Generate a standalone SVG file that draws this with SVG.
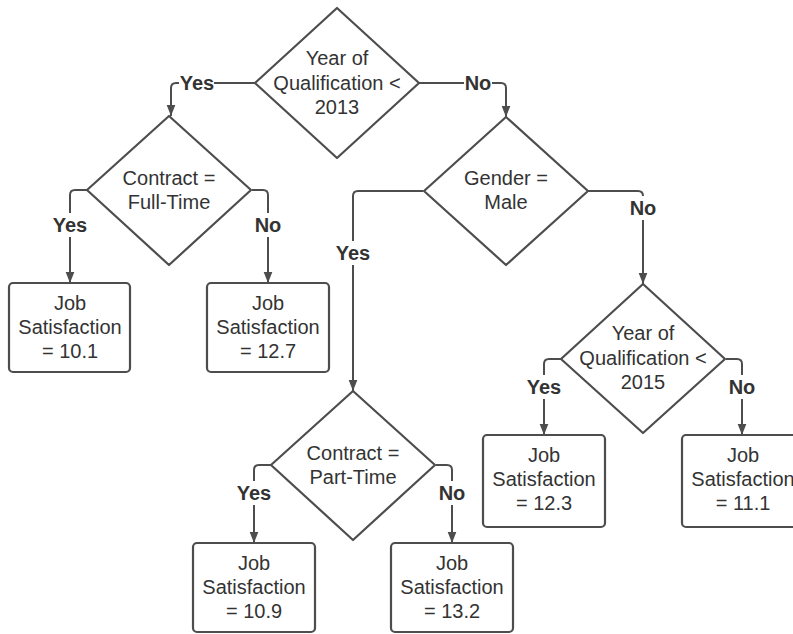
<svg xmlns="http://www.w3.org/2000/svg" width="793" height="634" viewBox="0 0 793 634">
<style>
.shape{fill:#fff;stroke:#4d4d4d;stroke-width:2.2;stroke-linejoin:round}
.conn{fill:none;stroke:#4d4d4d;stroke-width:2}
.t{font-family:"Liberation Sans",Arial,sans-serif;font-size:20px;fill:#333;text-anchor:middle}
.lbl{font-family:"Liberation Sans",Arial,sans-serif;font-size:20px;font-weight:bold;fill:#333;text-anchor:middle}
.bg{fill:#fff}
</style>
<defs>
<marker id="arr" markerUnits="userSpaceOnUse" markerWidth="12" markerHeight="14" viewBox="0 0 12 14" refX="6" refY="14" orient="auto-start-reverse">
<path d="M0,0 L12,0 L6,14 Z" fill="#4d4d4d" transform="rotate(0)"/>
</marker>
<marker id="ad" markerUnits="userSpaceOnUse" markerWidth="11" markerHeight="14" viewBox="0 0 14 11" refX="14" refY="5.5" orient="auto">
<path d="M0,0 L14,5.5 L0,11 Z" fill="#4d4d4d"/>
</marker>
</defs>
<rect width="793" height="634" fill="#fff"/>

<g id="connectors">
<path class="conn" marker-end="url(#ad)" d="M255,83 H176 Q171,83 171,88 V116"/>
<path class="conn" marker-end="url(#ad)" d="M419,83 H501 Q506,83 506,88 V117"/>
<path class="conn" marker-end="url(#ad)" d="M87,190 H75 Q70,190 70,195 V283"/>
<path class="conn" marker-end="url(#ad)" d="M252,190 H263 Q268,190 268,195 V283"/>
<path class="conn" marker-end="url(#ad)" d="M423,191 H358 Q353,191 353,196 V391"/>
<path class="conn" marker-end="url(#ad)" d="M588,191 H638 Q643,191 643,196 V284"/>
<path class="conn" marker-end="url(#ad)" d="M561,359 H549 Q544,359 544,364 V435"/>
<path class="conn" marker-end="url(#ad)" d="M726,359 H737 Q742,359 742,364 V435"/>
<path class="conn" marker-end="url(#ad)" d="M271,465 H259 Q254,465 254,470 V543"/>
<path class="conn" marker-end="url(#ad)" d="M436,465 H447 Q452,465 452,470 V543"/>
<g id="labels">
<rect class="bg" x="179" y="72" width="35" height="22"/><text class="lbl" x="197" y="90">Yes</text>
<rect class="bg" x="464" y="72" width="28" height="22"/><text class="lbl" x="478" y="90">No</text>
<rect class="bg" x="52" y="213" width="36" height="24"/><text class="lbl" x="70" y="232">Yes</text>
<rect class="bg" x="254" y="213" width="28" height="24"/><text class="lbl" x="268" y="232">No</text>
<rect class="bg" x="335" y="241" width="36" height="24"/><text class="lbl" x="353" y="260">Yes</text>
<rect class="bg" x="629" y="196" width="28" height="24"/><text class="lbl" x="643" y="215">No</text>
<rect class="bg" x="526" y="375" width="36" height="24"/><text class="lbl" x="544" y="394">Yes</text>
<rect class="bg" x="728" y="375" width="28" height="24"/><text class="lbl" x="742" y="394">No</text>
<rect class="bg" x="236" y="481" width="36" height="24"/><text class="lbl" x="254" y="500">Yes</text>
<rect class="bg" x="438" y="481" width="28" height="24"/><text class="lbl" x="452" y="500">No</text>
</g>
</g>

<g id="q-year2013">
<path class="shape" d="M337,8 L419,83 L337,158 L255,83 Z"/>
<text class="t" x="337" y="65">Year of</text>
<text class="t" x="337" y="90">Qualification &lt;</text>
<text class="t" x="337" y="114">2013</text>
</g>
<g id="q-fulltime">
<path class="shape" d="M169,116 L251,190 L169,265 L87,190 Z"/>
<text class="t" x="169" y="185">Contract =</text>
<text class="t" x="169" y="209">Full-Time</text>
</g>
<g id="q-gender">
<path class="shape" d="M506,117 L588,191 L506,265 L424,191 Z"/>
<text class="t" x="506" y="185">Gender =</text>
<text class="t" x="506" y="209">Male</text>
</g>
<g id="q-parttime">
<path class="shape" d="M353,391 L435,465 L353,540 L271,465 Z"/>
<text class="t" x="353" y="460">Contract =</text>
<text class="t" x="353" y="484">Part-Time</text>
</g>
<g id="q-year2015">
<path class="shape" d="M643,284 L725,359 L643,433 L561,359 Z"/>
<text class="t" x="643" y="340">Year of</text>
<text class="t" x="643" y="365">Qualification &lt;</text>
<text class="t" x="643" y="389">2015</text>
</g>

<g id="r-101">
<rect class="shape" x="9" y="283" width="121" height="89" rx="4"/>
<text class="t" x="70" y="310">Job</text>
<text class="t" x="70" y="334">Satisfaction</text>
<text class="t" x="70" y="358">= 10.1</text>
</g>
<g id="r-127">
<rect class="shape" x="207" y="283" width="122" height="89" rx="4"/>
<text class="t" x="268" y="310">Job</text>
<text class="t" x="268" y="334">Satisfaction</text>
<text class="t" x="268" y="358">= 12.7</text>
</g>
<g id="r-123">
<rect class="shape" x="483" y="435" width="122" height="92" rx="4"/>
<text class="t" x="544" y="462">Job</text>
<text class="t" x="544" y="486">Satisfaction</text>
<text class="t" x="544" y="510">= 12.3</text>
</g>
<g id="r-111">
<rect class="shape" x="682" y="435" width="122" height="92" rx="4"/>
<text class="t" x="743" y="462">Job</text>
<text class="t" x="743" y="486">Satisfaction</text>
<text class="t" x="743" y="510">= 11.1</text>
</g>
<g id="r-109">
<rect class="shape" x="193" y="543" width="122" height="89" rx="4"/>
<text class="t" x="254" y="570">Job</text>
<text class="t" x="254" y="594">Satisfaction</text>
<text class="t" x="254" y="618">= 10.9</text>
</g>
<g id="r-132">
<rect class="shape" x="391" y="543" width="122" height="89" rx="4"/>
<text class="t" x="452" y="570">Job</text>
<text class="t" x="452" y="594">Satisfaction</text>
<text class="t" x="452" y="618">= 13.2</text>
</g>
</svg>
